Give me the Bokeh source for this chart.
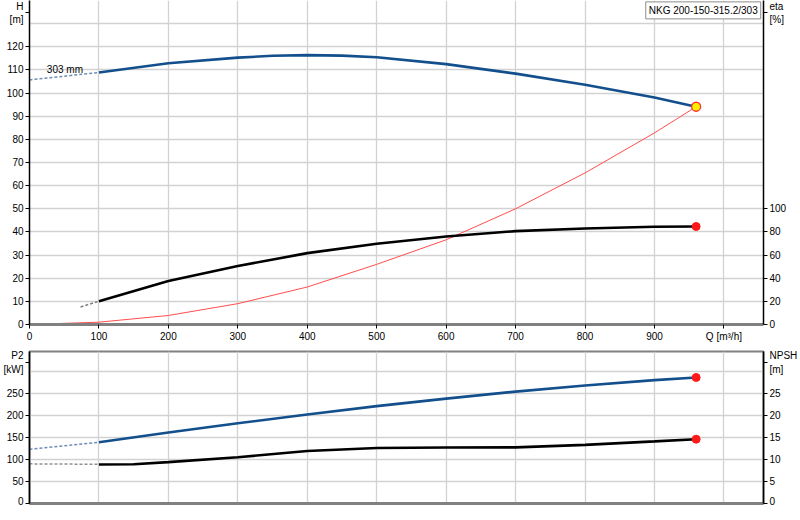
from bokeh.plotting import figure
from bokeh.models import Range1d, LinearAxis, FixedTicker, Label
from bokeh.layouts import column
from bokeh.embed import file_html
from bokeh.resources import INLINE

# ---------------- data ----------------
title_text = "NKG 200-150-315.2/303"
impeller_text = "303 mm"
h_title, eta_title, p2_title, npsh_title = "H\n[m]", "eta\n[%]", "P2\n[kW]", "NPSH\n[m]"

q_ticks = [0, 100, 200, 300, 400, 500, 600, 700, 800, 900, 1000]
h_ticks = [0, 10, 20, 30, 40, 50, 60, 70, 80, 90, 100, 110, 120]
h_grid = [0, 10, 20, 30, 40, 50, 60, 70, 80, 90, 100, 110, 120, 130]
eta_ticks = [0, 20, 40, 60, 80, 100]
p2_ticks = [0, 50, 100, 150, 200, 250]
p2_grid = [0, 50, 100, 150, 200, 250, 300]
npsh_ticks = [0, 5, 10, 15, 20, 25]

# head curve
q_head = [100, 200, 300, 350, 400, 450, 500, 600, 700, 800, 900, 960]
head = [108.9, 112.9, 115.3, 116.1, 116.4, 116.2, 115.5, 112.5, 108.4, 103.6, 98.1, 94.1]
q_head_ext = [0, 100]
head_ext = [105.7, 108.9]

# efficiency curve
q_eta = [100, 200, 300, 400, 500, 600, 700, 800, 900, 960]
eta = [20.1, 37.6, 50.5, 61.7, 69.8, 76.1, 80.7, 83.0, 84.5, 84.7]
q_eta_ext = [73.5, 100]
eta_ext = [15.2, 20.1]

# system curve
q_sys = [0, 100, 200, 300, 400, 500, 600, 700, 800, 900, 960]
h_sys = [0, 1.0, 3.9, 9.0, 16.2, 26.0, 36.6, 50.0, 65.5, 82.8, 94.1]

# power curve
q_p2 = [100, 200, 300, 400, 500, 600, 700, 800, 900, 960]
p2 = [139, 161, 182, 202, 221, 238, 254, 268, 280, 286]
q_p2_ext = [0, 100]
p2_ext = [123, 139]

# NPSH curve
q_npsh = [100, 150, 200, 300, 400, 500, 600, 700, 800, 900, 960]
npsh = [8.85, 8.9, 9.4, 10.5, 11.9, 12.6, 12.7, 12.75, 13.3, 14.1, 14.6]
q_npsh_ext = [0, 100]
npsh_ext = [9.0, 8.9]

# duty point
q_duty = [960]

# ---------------- style ----------------
FONT = "Liberation Sans"
FS = "10px"
BLUE = "#124f8c"
GRID = "#d2d2d2"
XMAX = 1057
H_TOP, ETA_TOP, P2_TOP, NPSH_TOP = 135, 270, 320, 32


def style_axis(ax, line_color="black", line_width=1.5):
    ax.axis_line_color = line_color
    ax.axis_line_width = line_width
    ax.major_tick_out = 4
    ax.major_tick_in = 0
    ax.major_tick_line_color = "black"
    ax.minor_tick_line_color = None
    ax.major_label_standoff = 2
    ax.major_label_text_font = FONT
    ax.major_label_text_font_size = FS
    ax.major_label_text_color = "black"


# ---------------- top chart ----------------
p1 = figure(width=800, height=349, output_backend="svg", toolbar_location=None,
            x_range=Range1d(0, XMAX), y_range=Range1d(0, 140),
            min_border_left=29, min_border_right=37, min_border_top=0, min_border_bottom=25)
p1.outline_line_color = None
p1.extra_y_ranges = {"eta": Range1d(0, 280)}

p1.xaxis.ticker = FixedTicker(ticks=q_ticks)
p1.xaxis.major_label_overrides = {1000: "Q [m³/h]"}
style_axis(p1.xaxis[0], line_color="#808080", line_width=3)
p1.yaxis.ticker = FixedTicker(ticks=h_ticks + [H_TOP])
p1.yaxis.major_label_overrides = {H_TOP: h_title}
style_axis(p1.yaxis[0])
ax_eta = LinearAxis(y_range_name="eta", ticker=FixedTicker(ticks=eta_ticks + [ETA_TOP]))
ax_eta.major_label_overrides = {ETA_TOP: eta_title}
style_axis(ax_eta)
p1.add_layout(ax_eta, "right")

p1.xgrid.ticker = FixedTicker(ticks=q_ticks)
p1.ygrid.ticker = FixedTicker(ticks=h_grid)
for g in (p1.xgrid[0], p1.ygrid[0]):
    g.grid_line_color = GRID
    g.grid_line_width = 1.3

# system curve
p1.line(q_sys, h_sys, line_color="#ff4d4d", line_width=1)
# head
p1.line(q_head_ext, head_ext, line_color="#6f8db5", line_width=1.5, line_dash="3 2")
p1.line(q_head, head, line_color=BLUE, line_width=2.6)
# efficiency
p1.line(q_eta_ext, eta_ext, line_color="#808080", line_width=1.5, line_dash="3 2", y_range_name="eta")
p1.line(q_eta, eta, line_color="black", line_width=2.6, y_range_name="eta")
# end markers
p1.scatter(q_duty, [eta[-1]], size=8, fill_color="#ff1a1a", line_color="#ff1a1a", y_range_name="eta")
p1.scatter(q_duty, [head[-1]], size=9, fill_color="#ffee00", line_color="#ff3030", line_width=1.3)

p1.add_layout(Label(x=25, y=110.0, text=impeller_text, text_align="left", text_baseline="alphabetic",
                    text_font=FONT, text_font_size=FS, text_color="black"))

box = Label(x=XMAX - 4, y=139.4, text=title_text, text_align="right", text_baseline="top",
            text_font=FONT, text_font_size=FS, text_color="black",
            background_fill_color="white", border_line_color="#8c8c8c", border_line_width=1,
            padding=3)
p1.add_layout(box)

# ---------------- bottom chart ----------------
p2f = figure(width=800, height=157, output_backend="svg", toolbar_location=None,
             x_range=p1.x_range, y_range=Range1d(0, 345),
             min_border_left=29, min_border_right=37, min_border_top=2, min_border_bottom=3)
p2f.outline_line_color = "#808080"
p2f.outline_line_width = 2
p2f.extra_y_ranges = {"npsh": Range1d(0, 34.5)}

p2f.xaxis.ticker = FixedTicker(ticks=[])
style_axis(p2f.xaxis[0], line_color="#808080", line_width=3)
p2f.xaxis.major_tick_out = 0
p2f.xaxis.major_label_standoff = 0
p2f.yaxis.ticker = FixedTicker(ticks=p2_ticks + [P2_TOP])
p2f.yaxis.major_label_overrides = {P2_TOP: p2_title}
style_axis(p2f.yaxis[0])
ax_npsh = LinearAxis(y_range_name="npsh", ticker=FixedTicker(ticks=npsh_ticks + [NPSH_TOP]))
ax_npsh.major_label_overrides = {NPSH_TOP: npsh_title}
style_axis(ax_npsh)
p2f.add_layout(ax_npsh, "right")

p2f.xgrid.ticker = FixedTicker(ticks=q_ticks)
p2f.ygrid.ticker = FixedTicker(ticks=p2_grid)
for g in (p2f.xgrid[0], p2f.ygrid[0]):
    g.grid_line_color = GRID
    g.grid_line_width = 1.3

p2f.line(q_p2_ext, p2_ext, line_color="#6f8db5", line_width=1.5, line_dash="3 2")
p2f.line(q_p2, p2, line_color=BLUE, line_width=2.6)
p2f.line(q_npsh_ext, npsh_ext, line_color="#909090", line_width=1.5, line_dash="3 2", y_range_name="npsh")
p2f.line(q_npsh, npsh, line_color="black", line_width=2.6, y_range_name="npsh")
p2f.scatter(q_duty, [p2[-1]], size=8, fill_color="#ff1a1a", line_color="#ff1a1a")
p2f.scatter(q_duty, [npsh[-1]], size=8, fill_color="#ff1a1a", line_color="#ff1a1a", y_range_name="npsh")

layout = column(p1, p2f, spacing=0)
open("out.html", "w").write(file_html(layout, INLINE))
